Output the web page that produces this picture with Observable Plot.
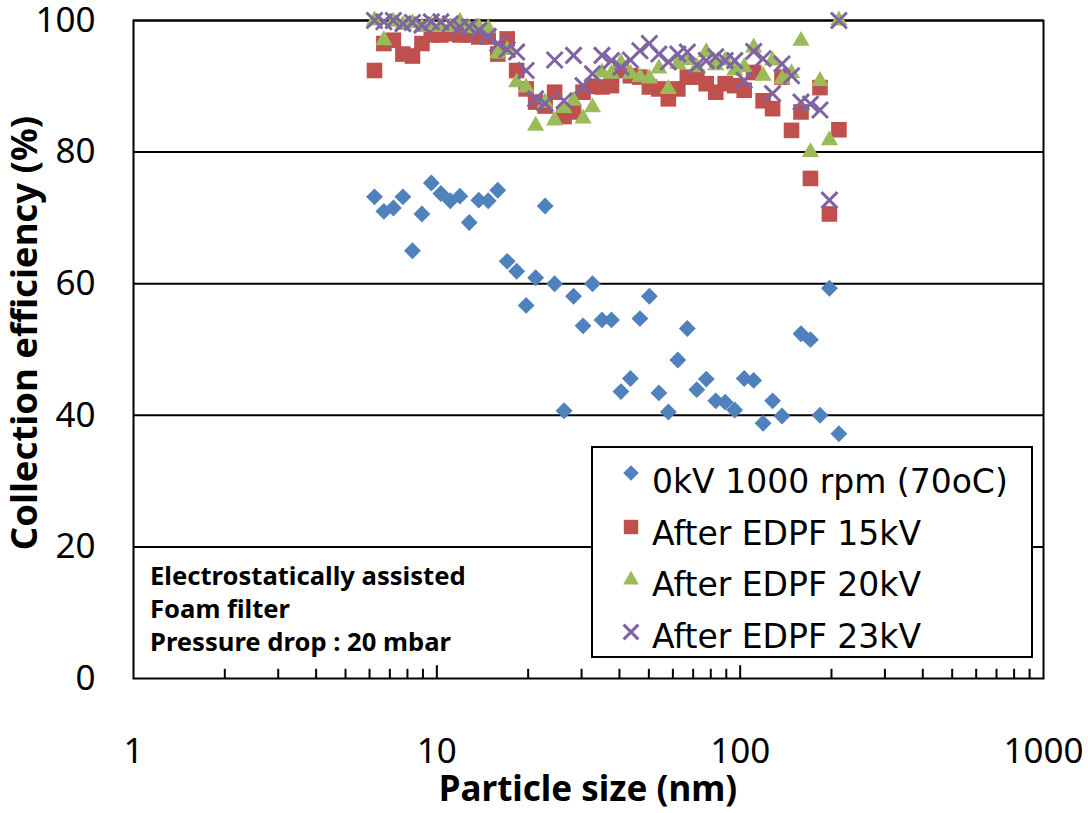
<!DOCTYPE html>
<html>
<head>
<meta charset="utf-8">
<script src="https://cdn.jsdelivr.net/npm/d3@7"></script>
<script src="https://cdn.jsdelivr.net/npm/@observablehq/plot@0.6"></script>
<style>
  body { margin: 0; background: #fff; }
  #chart { width: 1088px; height: 813px; }
</style>
</head>
<body>
<div id="chart"></div>
<script>
// Particle size channels (nm)
const sizes = [6.23, 6.69, 7.19, 7.73, 8.31, 8.93, 9.59, 10.31, 11.08, 11.91,
  12.79, 13.75, 14.77, 15.88, 17.06, 18.33, 19.70, 21.17, 22.75, 24.45,
  26.27, 28.23, 30.34, 32.60, 35.03, 37.65, 40.46, 43.47, 46.72, 50.20,
  53.95, 57.97, 62.30, 66.95, 71.94, 77.31, 83.08, 89.27, 95.93, 103.1,
  110.8, 119.0, 127.9, 137.4, 147.7, 158.7, 170.5, 183.3, 196.9, 211.6];

// Collection efficiency (%) per series
const eff0kV = [73.2, 71.0, 71.5, 73.2, 65.0, 70.6, 75.3, 73.7, 72.6, 73.3,
  69.3, 72.7, 72.6, 74.2, 63.4, 61.9, 56.7, 60.9, 71.8, 60.0,
  40.7, 58.1, 53.6, 60.0, 54.5, 54.5, 43.6, 45.6, 54.7, 58.1,
  43.4, 40.5, 48.4, 53.2, 43.9, 45.5, 42.2, 42.0, 40.8, 45.6,
  45.3, 38.8, 42.2, 39.9, null, 52.4, 51.5, 40.0, 59.3, 37.2];
const eff15kV = [92.4, 96.5, 97.0, 94.9, 94.6, 96.5, 97.8, 97.8, 98.0, 97.8,
  97.8, 97.5, 97.5, 94.9, 97.2, 92.4, 89.6, 87.6, 87.0, 89.1,
  85.4, 86.1, 89.1, 90.0, 89.9, 90.1, 92.4, 91.6, 91.4, 89.9,
  89.6, 88.1, 89.6, 91.4, 91.4, 90.4, 89.1, 90.4, 90.1, 89.4,
  92.1, 87.8, 86.6, 91.4, 83.3, 86.1, 76.0, 89.8, 70.6, 83.4];
const eff20kV = [100, 97.0, 99.8, 99.3, 99.6, 99.0, 99.3, 99.0, 99.0, 99.8,
  98.8, 99.0, 98.8, 95.0, 95.5, 90.6, 89.8, 84.0, 87.5, 84.8,
  86.7, 87.8, 85.1, 86.8, 92.1, 91.9, 93.5, 91.9, 91.4, 91.2,
  92.7, 89.6, 93.4, 94.0, 92.9, 95.2, 93.2, 93.9, 92.4, 92.9,
  95.9, 91.6, 93.9, 91.1, 92.0, 96.9, 80.0, 90.8, 81.8, 100];
const eff23kV = [100, 99.8, 100, 99.5, 99.7, 99.3, 99.8, 99.8, 99.5, 99.0,
  99.0, 98.5, 97.6, 96.5, 95.6, 95.2, 92.4, 88.1, 87.4, 94.0,
  87.8, 94.7, 90.1, 91.9, 94.7, 93.9, 92.9, 94.0, 95.4, 96.5,
  94.9, 93.7, 94.9, 95.2, 93.2, 93.9, 94.5, 93.9, 93.9, 90.9,
  95.3, 94.2, 88.9, 93.4, 91.6, 87.6, 87.3, 86.4, 72.7, 100];

const seriesNames = ["0kV 1000 rpm (70oC)", "After EDPF 15kV", "After EDPF 20kV", "After EDPF 23kV"];
const seriesColors = ["#4F81BD", "#C0504D", "#9BBB59", "#8064A2"];
const yTicks = [0, 20, 40, 60, 80, 100];
const xTickLabels = [1, 10, 100, 1000];
const xMajorInner = [10, 100];
const xMinor = [2, 3, 4, 5, 6, 7, 8, 9, 20, 30, 40, 50, 60, 70, 80, 90, 200, 300, 400, 500, 600, 700, 800, 900];
const annotationLines = ["Electrostatically assisted", "Foam filter", "Pressure drop : 20 mbar"];
const xTitle = "Particle size (nm)";
const yTitle = "Collection efficiency (%)";

const allSeries = [eff0kV, eff15kV, eff20kV, eff23kV];
const rows = allSeries.map((vals, k) =>
  sizes.map((s, i) => ({size: s, eff: vals[i], series: seriesNames[k]})).filter(d => d.eff != null)
);

const symbolDefs = [
  {symbol: "diamond2", r: 7.6, fill: seriesColors[0], stroke: "none"},
  {symbol: "square", r: 8.8, fill: seriesColors[1], stroke: "none"},
  {symbol: "triangle", r: 6.4, fill: seriesColors[2], stroke: "none"},
  {symbol: "times", r: 7.3, fill: "none", stroke: seriesColors[3], strokeWidth: 3}
];

const chart = Plot.plot({
  width: 1088,
  height: 813,
  marginTop: 20,
  marginRight: 45,
  marginBottom: 135,
  marginLeft: 133,
  x: {type: "log", domain: [1, 1000]},
  y: {domain: [0, 100]},
  style: {fontFamily: "'Noto Sans', sans-serif", fontSize: "35px", color: "black", background: "white", overflow: "visible"},
  marks: [
    Plot.ruleY(yTicks.filter(v => v > 0), {stroke: "black", strokeWidth: 2}),
    Plot.frame({stroke: "black", strokeWidth: 2}),
    Plot.ruleX(xMinor, {y1: 0, y2: 1.4, stroke: "black", strokeWidth: 2}),
    Plot.ruleX(xMajorInner, {y1: 0, y2: 1.95, stroke: "black", strokeWidth: 2}),
    ...rows.map((data, k) => Plot.dot(data, {
      x: "size", y: "eff",
      symbol: () => symbolDefs[k].symbol,
      r: symbolDefs[k].r,
      fill: symbolDefs[k].fill,
      stroke: symbolDefs[k].stroke,
      strokeWidth: symbolDefs[k].strokeWidth || 1
    })),
    Plot.axisX(xTickLabels, {tickSize: 0, tickPadding: 60, tickFormat: d => String(d), label: null, fontSize: 35}),
    Plot.axisY(yTicks, {tickSize: 0, tickPadding: 38, tickFormat: d => String(d), label: null, fontSize: 35})
  ]
});

document.getElementById("chart").appendChild(chart);

const svg = d3.select(chart);

// Axis titles
svg.append("text")
  .attr("x", 588).attr("y", 801)
  .attr("text-anchor", "middle")
  .attr("font-family", "'Noto Sans', sans-serif")
  .attr("font-weight", "bold")
  .attr("font-size", 35)
  .attr("fill", "black")
  .text(xTitle);

svg.append("text")
  .attr("transform", "translate(37,333) rotate(-90)")
  .attr("text-anchor", "middle")
  .attr("font-family", "'Noto Sans', sans-serif")
  .attr("font-weight", "bold")
  .attr("font-size", 36.5)
  .attr("fill", "black")
  .text(yTitle);

// Annotation
const ann = svg.append("g")
  .attr("font-family", "'Noto Sans', sans-serif")
  .attr("font-weight", "bold")
  .attr("font-size", 25.6)
  .attr("text-anchor", "start")
  .attr("fill", "black");
annotationLines.forEach((t, i) => {
  ann.append("text").attr("x", 150).attr("y", 585 + 33 * i).attr("text-anchor", "start").text(t);
});

// Legend
const lg = svg.append("g").attr("text-anchor", "start");
lg.append("rect")
  .attr("x", 592).attr("y", 447).attr("width", 440).attr("height", 210)
  .attr("fill", "white").attr("stroke", "black").attr("stroke-width", 2);
const d3Symbols = {diamond2: d3.symbolDiamond2, square: d3.symbolSquare, triangle: d3.symbolTriangle, times: d3.symbolTimes};
const markerY = [473, 527, 580, 632];
seriesNames.forEach((name, k) => {
  const def = symbolDefs[k];
  lg.append("path")
    .attr("transform", `translate(631,${markerY[k]})`)
    .attr("d", d3.symbol(d3Symbols[def.symbol], Math.PI * def.r * def.r * 0.85)())
    .attr("fill", def.fill)
    .attr("stroke", def.stroke)
    .attr("stroke-width", def.strokeWidth || 1);
  lg.append("text")
    .attr("x", 652).attr("y", 493 + 51.7 * k)
    .attr("text-anchor", "start")
    .attr("font-family", "'DejaVu Sans', sans-serif")
    .attr("font-size", 33)
    .attr("fill", "black")
    .text(name);
});
</script>
</body>
</html>
